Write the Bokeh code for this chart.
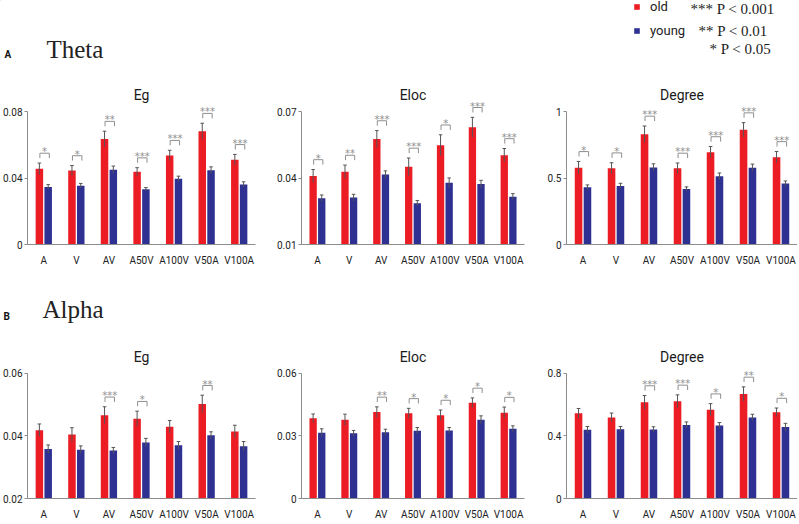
from bokeh.plotting import figure
from bokeh.layouts import column, row
from bokeh.models import (ColumnDataSource, FixedTicker, CustomJSTickFormatter, Range1d,
                          FactorRange, Label, Legend, LegendItem)
from bokeh.transform import dodge
from bokeh.core.properties import value
from bokeh.embed import file_html
from bokeh.resources import INLINE

categories = ["A", "V", "AV", "A50V", "A100V", "V50A", "V100A"]

theta_eg_old = [0.0457, 0.0446, 0.0636, 0.0438, 0.0537, 0.0683, 0.0511]
theta_eg_old_err = [0.0034, 0.0030, 0.0047, 0.0025, 0.0031, 0.0048, 0.0032]
theta_eg_young = [0.0347, 0.0354, 0.0451, 0.0333, 0.0396, 0.0448, 0.0362]
theta_eg_young_err = [0.0014, 0.0014, 0.0022, 0.0010, 0.0016, 0.0020, 0.0016]
theta_eg_sig = ["*", "*", "**", "***", "***", "***", "***"]

theta_eloc_old = [0.0410, 0.0429, 0.0577, 0.0451, 0.0549, 0.0630, 0.0504]
theta_eloc_old_err = [0.0029, 0.0030, 0.0038, 0.0040, 0.0047, 0.0045, 0.0030]
theta_eloc_young = [0.0309, 0.0312, 0.0416, 0.0287, 0.0379, 0.0373, 0.0316]
theta_eloc_young_err = [0.0015, 0.0015, 0.0017, 0.0012, 0.0022, 0.0017, 0.0014]
theta_eloc_sig = ["*", "**", "***", "***", "*", "***", "***"]

theta_deg_old = [0.579, 0.574, 0.830, 0.574, 0.696, 0.865, 0.658]
theta_deg_old_err = [0.047, 0.042, 0.063, 0.040, 0.042, 0.053, 0.043]
theta_deg_young = [0.431, 0.441, 0.581, 0.419, 0.514, 0.579, 0.459]
theta_deg_young_err = [0.018, 0.020, 0.027, 0.015, 0.025, 0.027, 0.020]
theta_deg_sig = ["*", "*", "***", "***", "***", "***", "***"]

alpha_eg_old = [0.0418, 0.0404, 0.0466, 0.0455, 0.0429, 0.0502, 0.0414]
alpha_eg_old_err = [0.0020, 0.0022, 0.0027, 0.0024, 0.0020, 0.0028, 0.0020]
alpha_eg_young = [0.0358, 0.0356, 0.0353, 0.0379, 0.0370, 0.0402, 0.0367]
alpha_eg_young_err = [0.0013, 0.0012, 0.0010, 0.0013, 0.0012, 0.0011, 0.0015]
alpha_eg_sig = ["", "", "***", "*", "", "**", ""]

alpha_eloc_old = [0.0384, 0.0377, 0.0414, 0.0408, 0.0399, 0.0459, 0.0411]
alpha_eloc_old_err = [0.0021, 0.0027, 0.0025, 0.0024, 0.0025, 0.0023, 0.0027]
alpha_eloc_young = [0.0315, 0.0312, 0.0317, 0.0325, 0.0326, 0.0377, 0.0334]
alpha_eloc_young_err = [0.0019, 0.0014, 0.0015, 0.0015, 0.0014, 0.0019, 0.0014]
alpha_eloc_sig = ["", "", "**", "*", "*", "*", "*"]

alpha_deg_old = [0.544, 0.518, 0.614, 0.621, 0.567, 0.668, 0.551]
alpha_deg_old_err = [0.031, 0.028, 0.044, 0.041, 0.039, 0.045, 0.027]
alpha_deg_young = [0.439, 0.443, 0.441, 0.470, 0.466, 0.518, 0.456]
alpha_deg_young_err = [0.021, 0.017, 0.017, 0.019, 0.019, 0.020, 0.024]
alpha_deg_sig = ["", "", "***", "***", "*", "**", "*"]

legend_labels = ["old", "young"]
p_value_notes = ["*** P < 0.001", "** P < 0.01", "* P < 0.05"]

OLD_COLOR = "#ec1c24"
YOUNG_COLOR = "#2e3192"
ERR_COLOR = "#555555"
SIG_COLOR = "#8f8f8f"
AXIS_COLOR = "#8c8c8c"
SANS = "Roboto"
SERIF = "Liberation Serif"

W = 797


def make_panel(title, old, old_err, young, young_err, sig, ymin, ymax, ticks,
               width, height, left, right, top, bottom, tick_px):
    frame_px = height - top - bottom
    s = (ymax - ymin) / tick_px
    extra_px = frame_px - tick_px
    p = figure(width=width, height=height, x_range=FactorRange(*categories),
               y_range=Range1d(ymin, ymax + extra_px * s), title=None,
               toolbar_location=None, output_backend="svg",
               min_border_left=left, min_border_right=right,
               min_border_top=top, min_border_bottom=bottom)
    p.x_range.range_padding = 0
    p.outline_line_color = None
    p.grid.visible = False
    p.background_fill_color = "white"
    p.border_fill_color = "white"

    # panel title, centred over the frame (middle factor = frame centre)
    p.text(x=[categories[len(categories) // 2]], y=[ymax + 17 * s], text=[title],
           text_font=value(SANS), text_font_size="14px", text_align="center",
           text_baseline="middle", text_color="#1a1a1a")

    src = ColumnDataSource(dict(
        cat=categories, old=old, young=young,
        old_lo=[v - e for v, e in zip(old, old_err)],
        old_hi=[v + e for v, e in zip(old, old_err)],
        young_lo=[v - e for v, e in zip(young, young_err)],
        young_hi=[v + e for v, e in zip(young, young_err)],
    ))
    xo = dodge("cat", -0.135, range=p.x_range)
    xy = dodge("cat", 0.135, range=p.x_range)
    p.vbar(x=xo, top="old", bottom=ymin, width=0.23, source=src,
           fill_color=OLD_COLOR, line_color=None)
    p.vbar(x=xy, top="young", bottom=ymin, width=0.23, source=src,
           fill_color=YOUNG_COLOR, line_color=None)

    # error bars
    for off, lo, hi in [(-0.135, "old_lo", "old_hi"), (0.135, "young_lo", "young_hi")]:
        xc = dodge("cat", off, range=p.x_range)
        p.segment(x0=xc, x1=xc, y0=lo, y1=hi, source=src,
                  line_color=ERR_COLOR, line_width=1)
        p.segment(x0=dodge("cat", off - 0.055, range=p.x_range),
                  x1=dodge("cat", off + 0.055, range=p.x_range),
                  y0=hi, y1=hi, source=src, line_color=ERR_COLOR, line_width=1)

    # significance brackets
    idx = [i for i, t in enumerate(sig) if t]
    yb = [old[i] + old_err[i] + 5 * s for i in idx]
    yt = [b + 5 * s for b in yb]
    ssrc = ColumnDataSource(dict(
        cat=[categories[i] for i in idx], yb=yb, yt=yt,
        ys=[t + 1.5 * s for t in yt], sig=[sig[i] for i in idx]))
    xl = dodge("cat", -0.12, range=p.x_range)
    xr = dodge("cat", 0.17, range=p.x_range)
    p.segment(x0=xl, x1=xl, y0="yb", y1="yt", source=ssrc, line_color=SIG_COLOR, line_width=1)
    p.segment(x0=xr, x1=xr, y0="yb", y1="yt", source=ssrc, line_color=SIG_COLOR, line_width=1)
    p.segment(x0=xl, x1=xr, y0="yt", y1="yt", source=ssrc, line_color=SIG_COLOR, line_width=1)
    p.text(x=dodge("cat", 0.025, range=p.x_range), y="ys", text="sig", source=ssrc,
           text_align="center", text_baseline="alphabetic",
           text_font=value("DejaVu Sans"), text_font_size="10px", text_color=SIG_COLOR)

    # axes
    p.yaxis.ticker = FixedTicker(ticks=ticks)
    p.yaxis.bounds = (ymin, ymax)
    p.yaxis.formatter = CustomJSTickFormatter(code="return String(Number(tick.toFixed(4)))")
    p.yaxis.axis_line_color = AXIS_COLOR
    p.yaxis.major_tick_line_color = AXIS_COLOR
    p.yaxis.major_tick_out = 3
    p.yaxis.major_tick_in = 0
    p.yaxis.minor_tick_line_color = None
    p.yaxis.major_label_standoff = 2
    p.yaxis.major_label_text_font = SANS
    p.yaxis.major_label_text_font_size = "10px"
    p.yaxis.major_label_text_color = "#222222"

    p.xaxis.axis_line_color = AXIS_COLOR
    p.xaxis.major_tick_line_color = None
    p.xaxis.minor_tick_line_color = None
    p.xaxis.major_label_standoff = 4
    p.xaxis.major_label_text_font = SANS
    p.xaxis.major_label_text_font_size = "10px"
    p.xaxis.major_label_text_color = "#222222"
    return p


def header(height, letter, letter_x, letter_y, name, name_x, name_y, with_legend=False):
    h = figure(width=W, height=height, x_range=Range1d(0, W), y_range=Range1d(height, 0),
               title=None, toolbar_location=None, output_backend="svg", min_border=0,
               x_axis_location=None, y_axis_location=None)
    h.grid.visible = False
    h.outline_line_color = None
    h.add_layout(Label(x=letter_x, y=letter_y, text=letter, text_font=SANS,
                       text_font_style="bold", text_font_size="10px",
                       text_baseline="middle", text_color="#111111"))
    h.add_layout(Label(x=name_x, y=name_y, text=name, text_font=SERIF,
                       text_font_size="25px", text_baseline="middle",
                       text_color="#222222"))
    if with_legend:
        # swatch renderers: outside the visible range, only used by the legend
        r_old = h.vbar(x=[-50], top=[-50], bottom=[-60], width=1,
                       fill_color=OLD_COLOR, line_color=None)
        r_young = h.vbar(x=[-50], top=[-50], bottom=[-60], width=1,
                         fill_color=YOUNG_COLOR, line_color=None)
        leg = Legend(items=[LegendItem(label=legend_labels[0], renderers=[r_old]),
                            LegendItem(label=legend_labels[1], renderers=[r_young])],
                     location=(633, height - 38), orientation="vertical",
                     glyph_width=7, glyph_height=7, label_height=14, spacing=9,
                     padding=0, margin=0, label_standoff=10,
                     label_text_font=SANS, label_text_font_size="13px",
                     label_text_color="#222222",
                     border_line_color=None, background_fill_alpha=0)
        h.add_layout(leg)
        for txt, x, y in zip(p_value_notes, [690, 698, 709], [8, 30, 48]):
            h.add_layout(Label(x=x, y=y, text=txt, text_font=SERIF,
                               text_font_size="15px", text_baseline="middle",
                               text_color="#222222"))
    return h


h1 = header(66, "A", 4, 54, "Theta", 46, 49, with_legend=True)

r1h, r1top, r1tick, r1bot = 202, 4, 135, 21
p1 = make_panel("Eg", theta_eg_old, theta_eg_old_err, theta_eg_young, theta_eg_young_err,
                theta_eg_sig, 0, 0.08, [0, 0.04, 0.08], 265, r1h, 27, 10, r1top, r1bot, r1tick)
p2 = make_panel("Eloc", theta_eloc_old, theta_eloc_old_err, theta_eloc_young,
                theta_eloc_young_err, theta_eloc_sig, 0.01, 0.07, [0.01, 0.04, 0.07],
                265, r1h, 36, 6, r1top, r1bot, r1tick)
p3 = make_panel("Degree", theta_deg_old, theta_deg_old_err, theta_deg_young,
                theta_deg_young_err, theta_deg_sig, 0, 1, [0, 0.5, 1],
                267, r1h, 36, 0, r1top, r1bot, r1tick)

h2 = header(59, "B", 3, 48, "Alpha", 42, 41)

r2h, r2top, r2tick, r2bot = 195, 4, 129, 19
p4 = make_panel("Eg", alpha_eg_old, alpha_eg_old_err, alpha_eg_young, alpha_eg_young_err,
                alpha_eg_sig, 0.02, 0.06, [0.02, 0.04, 0.06], 265, r2h, 27, 10, r2top, r2bot, r2tick)
p5 = make_panel("Eloc", alpha_eloc_old, alpha_eloc_old_err, alpha_eloc_young,
                alpha_eloc_young_err, alpha_eloc_sig, 0, 0.06, [0, 0.03, 0.06],
                265, r2h, 36, 6, r2top, r2bot, r2tick)
p6 = make_panel("Degree", alpha_deg_old, alpha_deg_old_err, alpha_deg_young,
                alpha_deg_young_err, alpha_deg_sig, 0, 0.8, [0, 0.4, 0.8],
                267, r2h, 36, 0, r2top, r2bot, r2tick)

layout = column(h1, row(p1, p2, p3, spacing=0), h2, row(p4, p5, p6, spacing=0), spacing=0)

open("out.html", "w").write(file_html(layout, INLINE))
